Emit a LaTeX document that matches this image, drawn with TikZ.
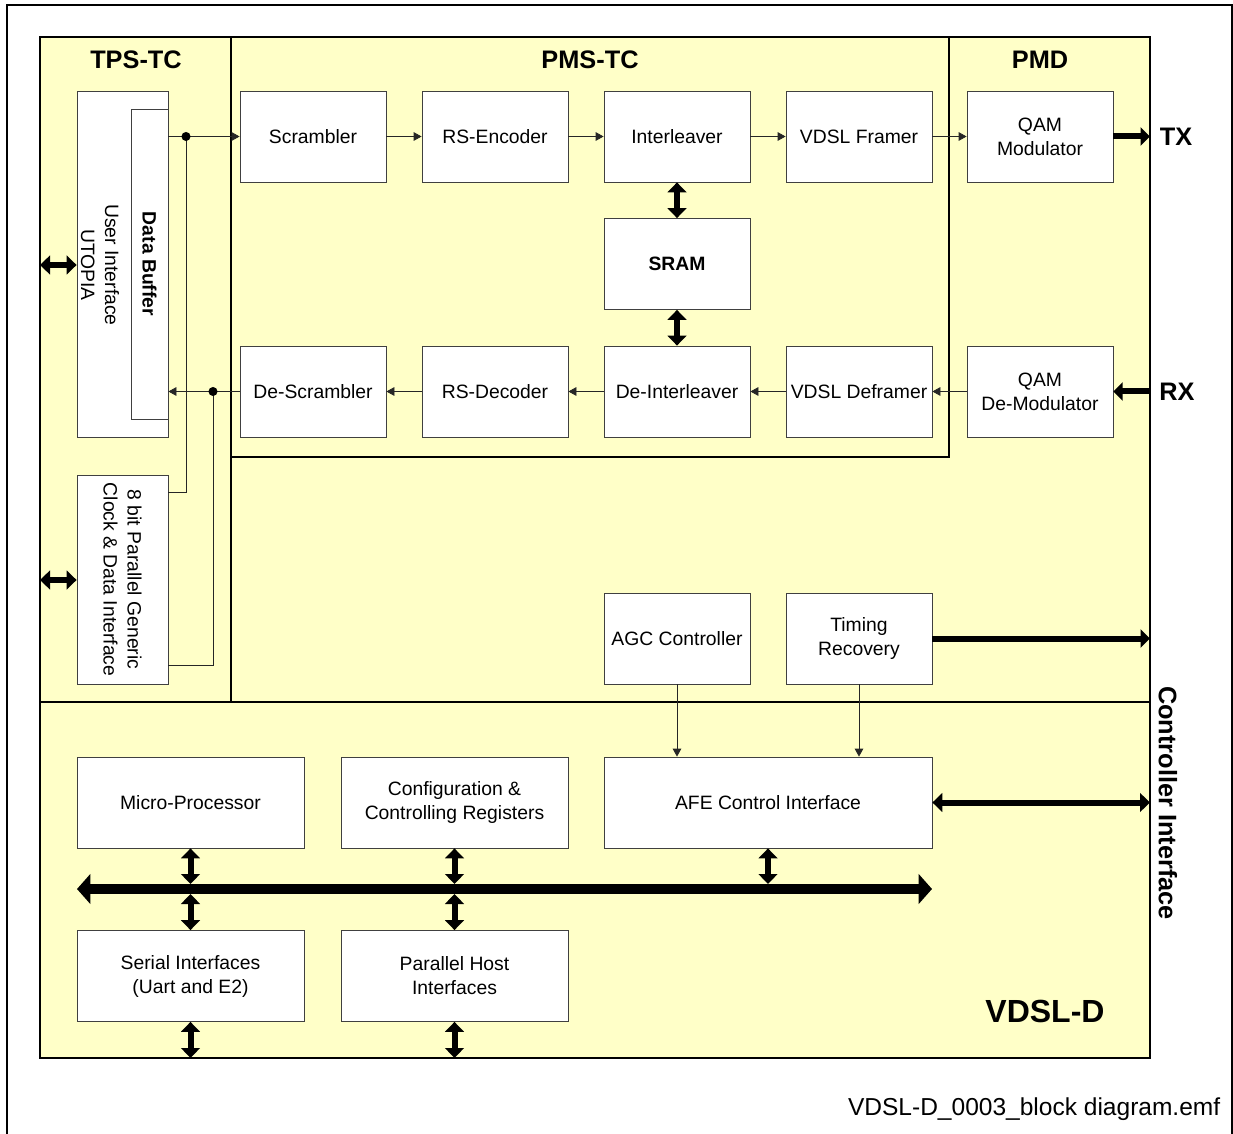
\documentclass[tikz,border=0pt]{standalone}
\usepackage{fontspec}
\setmainfont{Liberation Sans}
\usetikzlibrary{arrows.meta}
\definecolor{chipyellow}{RGB}{255,255,200}

\begin{document}
\begin{tikzpicture}[x=0.75pt,y=-0.75pt]
  \tikzstyle{block} = [draw=black!75, fill=white, line width=0.6pt, inner sep=0pt, minimum width=109.5pt, minimum height=68.25pt, align=center, font=\fontsize{14.5}{18}\selectfont]
  \tikzstyle{wide} = [block, minimum width=170.25pt]
  \tikzstyle{head} = [font=\fontsize{19}{22}\selectfont\bfseries]
  \tikzstyle{sig} = [draw=black!85, line width=0.6pt, -{Triangle[length=6pt,width=6.5pt]}]
  \tikzstyle{wire} = [draw=black!85, line width=0.6pt]
  \tikzstyle{bus} = [line width=4.5pt, {Triangle[length=7.5pt,width=14pt]}-{Triangle[length=7.5pt,width=14pt]}]
  \tikzstyle{busout} = [line width=4.5pt, -{Triangle[length=7pt,width=13.5pt]}]
  \tikzstyle{mainbus} = [line width=7.5pt, {Triangle[length=10pt,width=22pt]}-{Triangle[length=10pt,width=22pt]}]
  \useasboundingbox (0,0) rectangle (1233,1134);

  % frame and chip areas
  \draw[line width=0.8pt] (7,1134) -- (7,5) -- (1232,5) -- (1232,1134);
  \draw[line width=2pt, fill=chipyellow] (40,37) rectangle (1150,1058);
  \draw[line width=1.6pt] (231,37) -- (231,702);
  \draw[line width=1.6pt] (231,457) -- (949,457) -- (949,37);
  \draw[line width=1.4pt] (40,702) -- (1150,702);

  \draw (136,60) node[head] (tps) {TPS-TC};
  \draw (590,60) node[head] (pms) {PMS-TC};
  \draw (1040,60) node[head] (pmd) {PMD};

  % TPS-TC
  \draw (122.5,264) node[block, minimum width=68.25pt, minimum height=259.5pt] (utopia) {};
  \draw (100,265) node[rotate=-90, align=center, font=\fontsize{14.5}{18}\selectfont] (utxt) {User Interface\\UTOPIA};
  \draw (149.5,264) node[block, rotate=-90, minimum width=232.5pt, minimum height=27.75pt, font=\fontsize{14.5}{18}\selectfont\bfseries] (dbuf) {Data Buffer};
  \draw (122.5,579.5) node[block, rotate=-90, minimum width=156.75pt, minimum height=68.25pt] (gen) {8 bit Parallel Generic\\Clock \& Data Interface};

  % PMS-TC transmit / receive
  \draw (313,136.5) node[block] (scr) {Scrambler};
  \draw (495,136.5) node[block] (rse) {RS-Encoder};
  \draw (677,136.5) node[block] (intl) {Interleaver};
  \draw (859,136.5) node[block] (vfr) {VDSL Framer};
  \draw (1040,136.5) node[block] (qmod) {QAM\\Modulator};
  \draw (677,264) node[block, font=\fontsize{14.5}{18}\selectfont\bfseries] (sram) {SRAM};
  \draw (313,391.5) node[block] (dscr) {De-Scrambler};
  \draw (495,391.5) node[block] (rsd) {RS-Decoder};
  \draw (677,391.5) node[block] (dintl) {De-Interleaver};
  \draw (859,391.5) node[block] (vdf) {VDSL Deframer};
  \draw (1040,391.5) node[block] (qdem) {QAM\\De-Modulator};

  \draw[sig] (scr) -- (rse);
  \draw[sig] (rse) -- (intl);
  \draw[sig] (intl) -- (vfr);
  \draw[sig] (vfr) -- (qmod);
  \draw[sig] (qdem) -- (vdf);
  \draw[sig] (vdf) -- (dintl);
  \draw[sig] (dintl) -- (rsd);
  \draw[sig] (rsd) -- (dscr);
  \draw[bus] (intl) -- (sram);
  \draw[bus] (sram) -- (dintl);

  % data buffer links
  \coordinate (j1) at (186,136.5);
  \coordinate (j2) at (213,391.5);
  \coordinate (g1) at (168,492);
  \coordinate (g2) at (168,665);
  \draw[sig] (dbuf.north |- scr.west) -- (scr.west);
  \draw[sig] (dscr.west) -- (dbuf.north |- dscr.west);
  \draw[wire] (j1) |- (g1);
  \draw[wire] (j2) |- (g2);
  \fill (j1) circle[radius=3.4pt];
  \fill (j2) circle[radius=3.4pt];

  \coordinate (l1) at (40,265);
  \coordinate (l2) at (40,580);
  \draw[bus] (l1) -- (utopia.west |- l1);
  \draw[bus] (l2) -- (gen.south |- l2);

  % line side
  \coordinate (tx) at (1150,136.5);
  \coordinate (rx) at (1150,391.5);
  \draw[busout] (qmod.east) -- (tx);
  \draw[busout] (rx) -- (qdem.east);
  \draw (1176,137) node[head] (txl) {TX};
  \draw (1177,392) node[head] (rxl) {RX};

  % controller part
  \draw (677,638.5) node[block] (agc) {AGC Controller};
  \draw (859,638.5) node[block] (tim) {Timing\\Recovery};
  \draw (768,802.5) node[block, minimum width=246pt] (afe) {AFE Control Interface};
  \draw (190.5,802.5) node[wide] (mp) {Micro-Processor};
  \draw (454.5,802.5) node[wide] (cfg) {Configuration \&\\Controlling Registers};
  \draw (190.5,976) node[wide] (ser) {Serial Interfaces\\(Uart and E2)};
  \draw (454.5,976) node[wide] (phi) {Parallel Host\\Interfaces};

  \coordinate (tr) at (1150,638.5);
  \coordinate (ci) at (1150,802.5);
  \draw[busout] (tim.east) -- (tr);
  \draw[sig] (agc) -- (agc |- afe.north);
  \draw[sig] (tim) -- (tim |- afe.north);
  \draw[bus] (afe.east) -- (ci);

  \coordinate (busl) at (77,889);
  \coordinate (busr) at (932,889);
  \coordinate (bt) at (0,884);
  \coordinate (bb) at (0,894);
  \coordinate (bot) at (0,1058);
  \draw[bus] (afe.south) -- (afe.south |- bt);
  \draw[bus] (mp.south) -- (mp.south |- bt);
  \draw[bus] (cfg.south) -- (cfg.south |- bt);
  \draw[bus] (ser.north) -- (ser.north |- bb);
  \draw[bus] (phi.north) -- (phi.north |- bb);
  \draw[bus] (ser.south) -- (ser.south |- bot);
  \draw[bus] (phi.south) -- (phi.south |- bot);
  \draw[mainbus] (busl) -- (busr);

  \draw (1045,1011) node[font=\fontsize{24}{28}\selectfont\bfseries] (chip) {VDSL-D};
  \draw (1168,803) node[head, rotate=-90] (ctrl) {Controller Interface};
  \draw (1225,1109) node[anchor=east, font=\fontsize{18.4}{22}\selectfont] (fname) {VDSL-D\_0003\_block diagram.emf};
\end{tikzpicture}
\end{document}
